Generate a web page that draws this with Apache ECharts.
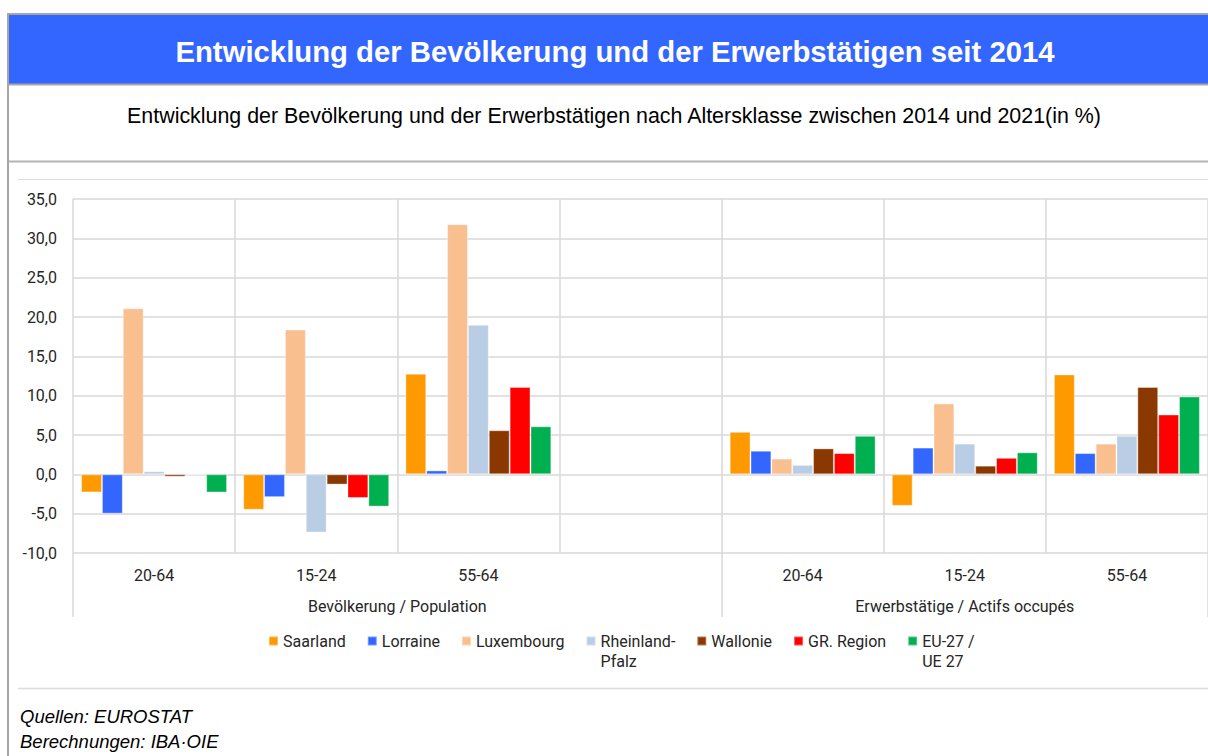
<!DOCTYPE html>
<html>
<head>
<meta charset="utf-8">
<style>
  html, body { margin: 0; padding: 0; background: #ffffff; }
  #chart { width: 1208px; height: 756px; }
</style>
<script src="https://cdn.jsdelivr.net/npm/echarts@6/dist/echarts.min.js"></script>
</head>
<body>
<div id="chart"></div>
<script>
// Age classes, per indicator group (the empty slot separates both groups)
const categories = ['20-64', '15-24', '55-64', '', '20-64', '15-24', '55-64'];
const groupLabels = ['Bevölkerung / Population', 'Erwerbstätige / Actifs occupés'];

// Change 2014-2021 in %
const saarland       = [-2.3, -4.5, 12.8, null, 5.4, -4.0, 12.7];
const lorraine       = [-5.0, -2.9,  0.5, null, 3.0,  3.4,  2.7];
const luxembourg     = [21.1, 18.4, 31.8, null, 2.0,  9.0,  3.9];
const rheinlandPfalz = [ 0.4, -7.4, 19.0, null, 1.2,  3.9,  4.9];
const wallonie       = [-0.3, -1.3,  5.6, null, 3.3,  1.1, 11.1];
const grRegion       = [-0.1, -3.0, 11.1, null, 2.7,  2.1,  7.6];
const eu27           = [-2.3, -4.1,  6.1, null, 4.9,  2.8,  9.9];

const seriesNames = ['Saarland', 'Lorraine', 'Luxembourg', 'Rheinland-\nPfalz', 'Wallonie', 'GR. Region', 'EU-27 /\nUE 27'];
const seriesValues = [saarland, lorraine, luxembourg, rheinlandPfalz, wallonie, grRegion, eu27];
const seriesColors = ['#FF9900', '#3366FF', '#F9BF8F', '#B9CDE5', '#8B3800', '#FF0000', '#00B050'];

// Secondary axis: 15 evenly spaced points spanning the plot; group names sit at
// point 4 (middle of first group) and point 11 (middle of second group),
// separators at points 0, 8 and 14.
const groupAxisData = new Array(15).fill('');
groupAxisData[4] = groupLabels[0];
groupAxisData[11] = groupLabels[1];
const groupLabelIdx = [4, 11];
const groupTickIdx = [0, 8, 14];

const gridColor = '#d9d9d9';
const textColor = '#262626';
const axisFont = 'Roboto, "Liberation Sans", Arial, sans-serif';
const titleFont = '"Liberation Sans", Arial, sans-serif';

const chart = echarts.init(document.getElementById('chart'), null, { renderer: 'svg' });

const option = {
  backgroundColor: '#ffffff',
  animation: false,
  graphic: [
    // outer frame (left and top)
    { type: 'rect', shape: { x: 8, y: 14, width: 1210, height: 760 },
      style: { fill: 'none', stroke: '#a6a6a6', lineWidth: 2 }, silent: true },
    // banner
    { type: 'rect', shape: { x: 9, y: 15, width: 1200, height: 69 },
      style: { fill: '#3366FF' }, silent: true },
    { type: 'line', shape: { x1: 9, y1: 84.5, x2: 1208, y2: 84.5 },
      style: { stroke: '#a6a6a6', lineWidth: 2 }, silent: true },
    { type: 'text', x: 615, y: 51,
      style: { text: 'Entwicklung der Bevölkerung und der Erwerbstätigen seit 2014',
        fill: '#ffffff', font: 'bold 29.3px ' + titleFont, align: 'center', verticalAlign: 'middle' } },
    { type: 'text', x: 614, y: 116,
      style: { text: 'Entwicklung der Bevölkerung und der Erwerbstätigen nach Altersklasse zwischen 2014 und 2021(in %)',
        fill: '#000000', font: '21.4px ' + titleFont, align: 'center', verticalAlign: 'middle' } },
    { type: 'line', shape: { x1: 9, y1: 161.5, x2: 1208, y2: 161.5 },
      style: { stroke: '#b4b4b4', lineWidth: 2 }, silent: true },
    { type: 'line', shape: { x1: 18, y1: 179.5, x2: 1208, y2: 179.5 },
      style: { stroke: '#dcdcdc', lineWidth: 1 }, silent: true },
    { type: 'line', shape: { x1: 18, y1: 688.5, x2: 1208, y2: 688.5 },
      style: { stroke: '#dcdcdc', lineWidth: 1.5 }, silent: true },
    { type: 'text', x: 20, y: 716,
      style: { text: 'Quellen: EUROSTAT', fill: '#000000',
        font: 'italic 18.5px ' + titleFont, align: 'left', verticalAlign: 'middle' } },
    { type: 'text', x: 20, y: 741,
      style: { text: 'Berechnungen: IBA·OIE', fill: '#000000',
        font: 'italic 18.5px ' + titleFont, align: 'left', verticalAlign: 'middle' } }
  ],
  legend: {
    data: seriesNames,
    left: 268,
    top: 611,
    orient: 'horizontal',
    icon: 'rect',
    itemWidth: 9,
    itemHeight: 9,
    itemGap: 21,
    padding: 0,
    // two-line entries: a leading blank line keeps the first line level with the marker
    formatter: function (name) { return name.indexOf('\n') >= 0 ? '\n' + name : name; },
    textStyle: { fontFamily: axisFont, fontSize: 16, color: textColor, lineHeight: 20 }
  },
  grid: { left: 73, top: 199, width: 1140, height: 354, containLabel: false },
  xAxis: [
    {
      type: 'category',
      data: categories,
      position: 'bottom',
      axisLine: { show: false },
      axisTick: { show: false },
      splitLine: { show: true, interval: 0, lineStyle: { color: gridColor, width: 1.5 } },
      axisLabel: { interval: 0, margin: 14, color: textColor, fontFamily: axisFont, fontSize: 16 }
    },
    {
      type: 'category',
      data: groupAxisData,
      position: 'bottom',
      boundaryGap: false,
      axisLine: { show: false },
      axisTick: {
        show: true, length: 64,
        interval: function (i) { return groupTickIdx.indexOf(i) >= 0; },
        lineStyle: { color: gridColor, width: 1.5 }
      },
      splitLine: { show: false },
      axisLabel: {
        interval: function (i) { return groupLabelIdx.indexOf(i) >= 0; },
        margin: 45, color: textColor, fontFamily: axisFont, fontSize: 16
      }
    }
  ],
  yAxis: {
    type: 'value',
    min: -10,
    max: 35,
    interval: 5,
    axisLine: { show: false },
    axisTick: { show: false },
    splitLine: { show: true, lineStyle: { color: gridColor, width: 1.5 } },
    axisLabel: {
      margin: 16, color: textColor, fontFamily: axisFont, fontSize: 16,
      formatter: function (v) { return v.toFixed(1).replace('.', ','); }
    }
  },
  series: seriesNames.map(function (name, i) {
    return {
      name: name,
      type: 'bar',
      xAxisIndex: 0,
      data: seriesValues[i],
      barGap: '0%',
      barCategoryGap: '10%',
      itemStyle: { color: seriesColors[i], borderColor: 'rgba(255,255,255,0.35)', borderWidth: 1 }
    };
  })
};

chart.setOption(option);
</script>
</body>
</html>
